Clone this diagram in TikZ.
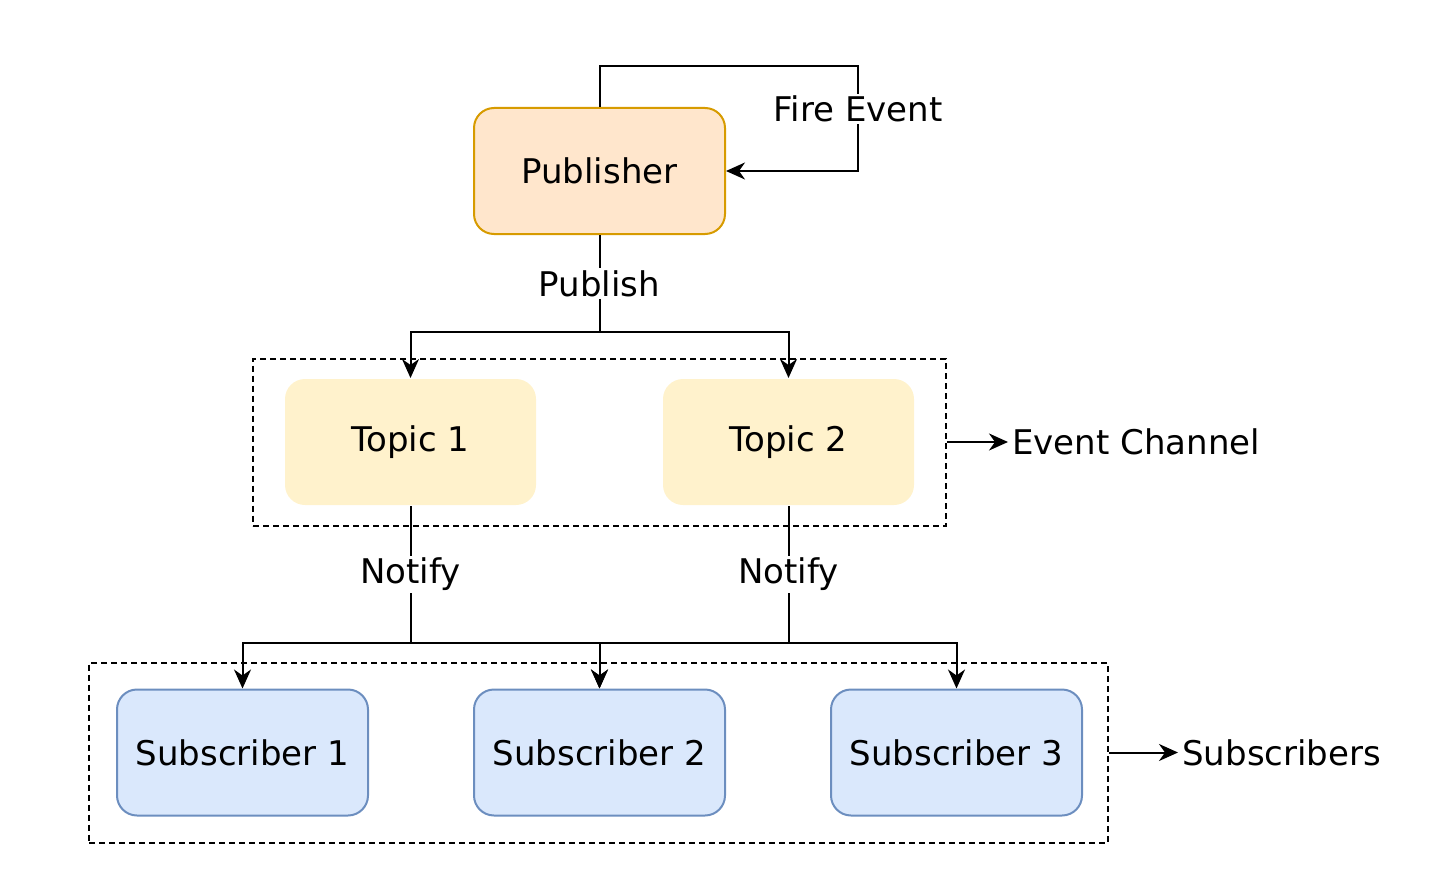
\documentclass[tikz,border=0pt]{standalone}
\usepackage{fontspec}
\setmainfont{DejaVu Sans}
\usepackage{tikz}
\usetikzlibrary{positioning,arrows.meta}
\definecolor{pubfill}{HTML}{FFE6CC}
\definecolor{publine}{HTML}{D79B00}
\definecolor{topicfill}{HTML}{FFF2CC}
\definecolor{subfill}{HTML}{DAE8FC}
\definecolor{subline}{HTML}{6C8EBF}

\begin{document}
\begin{tikzpicture}[x=1pt,y=-1pt,line width=2pt,
    >={Stealth[length=19pt,width=17pt,inset=6pt]},
    font=\fontsize{34}{40}\selectfont]
\tikzstyle{box}=[rectangle,rounded corners=20pt,minimum width=251pt,minimum height=126pt,inner sep=0pt]
\tikzstyle{group}=[rectangle,draw,dash pattern=on 6pt off 4pt,inner sep=0pt]
\tikzstyle{lbl}=[fill=white,inner sep=2pt]
\useasboundingbox (0,0) rectangle (1440,896);
% publisher
\node[box,fill=pubfill,draw=publine] (pub) at (599.5,171) {Publisher};
% event channel
\node[group,minimum width=693pt,minimum height=167pt] (chan) at (599.5,442) {};
\node[box,fill=topicfill] (t1) at (410.5,442) {Topic 1};
\node[box,fill=topicfill,right=125pt of t1] (t2) {Topic 2};
% subscribers
\node[group,minimum width=1019pt,minimum height=180pt] (subs) at (598.5,752.5) {};
\node[box,fill=subfill,draw=subline] (s1) at (242.5,752.5) {Subscriber 1};
\node[box,fill=subfill,draw=subline,right=104pt of s1] (s2) {Subscriber 2};
\node[box,fill=subfill,draw=subline,right=104pt of s2] (s3) {Subscriber 3};
% side labels
\node[anchor=west] (chanlbl) at (1008,442) {Event Channel};
\node[anchor=west] (subslbl) at (1178,752.5) {Subscribers};
\draw[->] (chan.east) -- (chanlbl.west);
\draw[->] (subs.east) -- (subslbl.west);
% fire event loop
\coordinate (loop) at (858,66);
\draw[->] (pub.north) |- (loop) |- node[lbl,pos=0.205] {Fire Event} (pub.east);
% publish
\coordinate (pubsplit) at (599.5,332);
\draw (pub.south) -- node[lbl] {Publish} (pubsplit);
\draw[->] (pubsplit) -| (t1.north);
\draw[->] (pubsplit) -| (t2.north);
% notify
\coordinate (n1) at (t1.south |- 0,643);
\coordinate (n2) at (t2.south |- 0,643);
\draw (t1.south) -- node[lbl] {Notify} (n1);
\draw (t2.south) -- node[lbl] {Notify} (n2);
\draw[->] (n1) -| (s1.north);
\draw[->] (n1) -| (s2.north);
\draw[->] (n2) -| (s2.north);
\draw[->] (n2) -| (s3.north);
\end{tikzpicture}
\end{document}
